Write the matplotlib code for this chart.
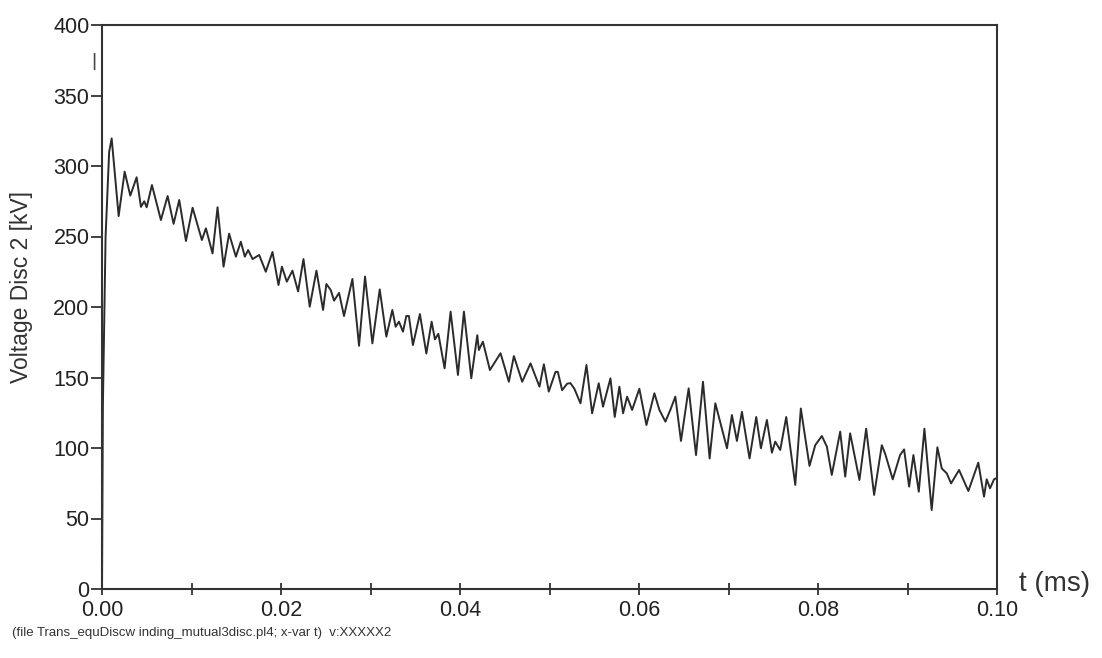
import numpy as np
import matplotlib.pyplot as plt

# time in ms and voltage in kV
t_ms = [
    0.0, 0.0001, 0.0004, 0.0008, 0.00108, 0.00186, 0.00253, 0.00316, 0.00387, 0.00435,
    0.00472, 0.00499, 0.00558, 0.00658, 0.00733, 0.0080, 0.00863, 0.00938, 0.01012, 0.01116,
    0.01161, 0.01235, 0.01291, 0.01358, 0.0142, 0.01496, 0.01551, 0.01596, 0.01633, 0.01682,
    0.01756, 0.0183, 0.01905, 0.01972, 0.0201, 0.02065, 0.02128, 0.02191, 0.02251, 0.02321,
    0.02396, 0.0247, 0.02507, 0.02556, 0.02593, 0.02649, 0.02704, 0.02798, 0.02872, 0.02939,
    0.03021, 0.03103, 0.03177, 0.03244, 0.03281, 0.03318, 0.03363, 0.0340, 0.03429, 0.03474,
    0.03552, 0.03624, 0.03683, 0.0372, 0.03758, 0.03828, 0.03895, 0.03977, 0.04044, 0.04126,
    0.04193, 0.04211, 0.04256, 0.04334, 0.04453, 0.04546, 0.04602, 0.04695, 0.04788, 0.04888,
    0.04937, 0.04992, 0.05067, 0.05093, 0.05141, 0.05197, 0.05234, 0.05278, 0.05346, 0.05413,
    0.05476, 0.0555, 0.05598, 0.05681, 0.05729, 0.05781, 0.05822, 0.05867, 0.05923, 0.06004,
    0.06083, 0.06172, 0.06228, 0.06295, 0.06350, 0.06406, 0.06469, 0.06555, 0.06637, 0.06715,
    0.06789, 0.06853, 0.06983, 0.07038, 0.07094, 0.0715, 0.07235, 0.0731, 0.07362, 0.07429,
    0.07485, 0.07522, 0.07578, 0.07645, 0.07746, 0.07808, 0.07905, 0.07969, 0.08043, 0.08099,
    0.08154, 0.08248, 0.08304, 0.08359, 0.08463, 0.08538, 0.08627, 0.08713, 0.08750, 0.08835,
    0.08917, 0.08962, 0.09018, 0.09066, 0.09126, 0.09189, 0.0927, 0.09334, 0.09383, 0.09439,
    0.09487, 0.09576, 0.0968, 0.09791, 0.09855, 0.09885, 0.09922, 0.09967, 0.09989,
]
v_kv = [
    0.0, 130, 250, 310, 319.6, 264.5, 296, 279, 292, 271,
    275, 270.7, 286.5, 261.7, 278.7, 259, 275.9, 246.8, 270.4, 247.5,
    255.8, 238, 270.7, 228.6, 252, 235.7, 246.3, 235.7, 240.4, 234,
    236.9, 225, 239, 215.6, 228.6, 218, 225.8, 211, 234, 200.2,
    225.8, 197.9, 216.3, 212, 204.5, 210, 193.6, 219.9, 172.5, 221.6,
    174.2, 212.5, 179, 197.9, 186, 189.6, 182.5, 193.6, 193.6, 173,
    195, 167, 189.6, 177, 181, 156.5, 196.7, 151.8, 196.7, 149.4,
    180, 169.5, 175.4, 155.3, 167.2, 147, 165.2, 147, 160, 143.5,
    159.4, 140, 154, 154, 141, 145.6, 146, 142, 131.7, 158.9,
    124.6, 145.9, 129.3, 149.4, 122, 143.5, 124.6, 136.4, 127, 142,
    116.3, 138.8, 127, 118.7, 127, 136.4, 105, 142.3, 95, 147,
    92.6, 131.7, 99.8, 123.4, 105, 125.7, 92.6, 122, 99.8, 119.9,
    96.7, 104.5, 98.6, 122, 73.8, 128, 87.3, 102, 108.5, 101,
    80.9, 111.6, 79.7, 110.4, 77.3, 113.7, 66.7, 102, 96, 77.8,
    95, 99, 72.6, 95, 69, 113.7, 56, 100.5, 85.5, 82,
    74.9, 84.4, 69.5, 89.6, 65.5, 77.8, 71.4, 77.8, 78.5,
]

y_ticks = [0, 50, 100, 150, 200, 250, 300, 350, 400]
x_major = [0.00, 0.02, 0.04, 0.06, 0.08, 0.10]
x_minor = [0.01, 0.03, 0.05, 0.07, 0.09]

plt.rcParams['font.family'] = ['Liberation Sans', 'DejaVu Sans']
edge = '#333333'

fig = plt.figure(figsize=(11.02, 6.58), dpi=100)
ax = fig.add_axes([102 / 1102, 1 - 589 / 658, (997 - 102) / 1102, (589 - 25) / 658])

ax.plot(t_ms, v_kv, color='#2b2b2b', lw=1.4)

ax.set_xlim(0, 0.1)
ax.set_ylim(0, 400)
ax.set_yticks(y_ticks)
ax.set_xticks(x_major)
ax.set_xticklabels([f'{x:.2f}' for x in x_major])
ax.set_xticks(x_minor, minor=True)

ax.tick_params(axis='y', direction='out', length=8, width=1.3, color=edge,
               labelsize=15.5, pad=1, labelcolor='#222222')
ax.tick_params(axis='x', which='both', direction='inout', length=8, width=1.3,
               color=edge, labelsize=15.5, pad=4, labelcolor='#222222')
for s in ax.spines.values():
    s.set_color(edge)
    s.set_linewidth(1.5)

fig.text(22 / 1102, 1 - 287 / 658, 'Voltage Disc 2 [kV]', rotation=90,
         ha='center', va='center', fontsize=16.5, color='#333333')
fig.text(1019 / 1102, 1 - 584 / 658, 't (ms)', ha='left', va='center',
         fontsize=20, color='#333333')
fig.text(12 / 1102, 1 - 633 / 658,
         '(file Trans_equDiscw inding_mutual3disc.pl4; x-var t)  v:XXXXX2',
         ha='left', va='center', fontsize=9.5, color='#333333')
fig.text(94 / 1102, 1 - 61 / 658, '|', ha='center', va='center',
         fontsize=14, color='#444444')

fig.savefig('out.png', dpi=100)
